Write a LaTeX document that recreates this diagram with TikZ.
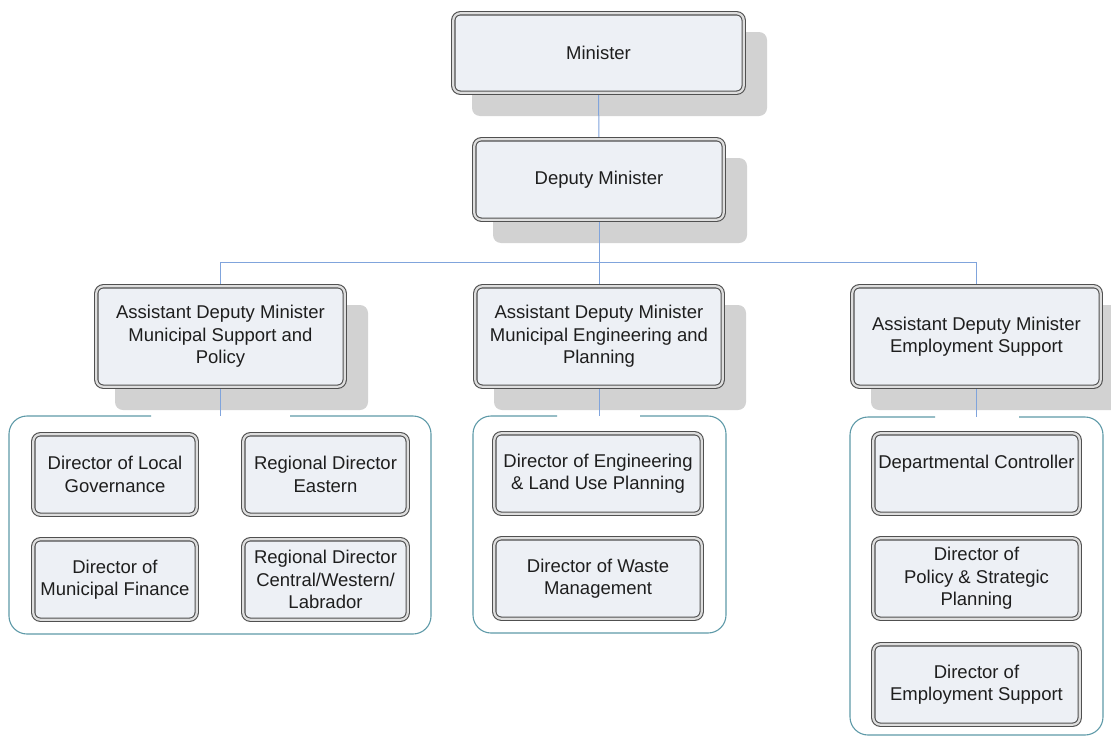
\documentclass[tikz,border=0pt]{standalone}
\usepackage{fontspec}
\setmainfont{Liberation Sans}
\usetikzlibrary{backgrounds}
\definecolor{boxfill}{RGB}{237,240,245}
\definecolor{boxline}{RGB}{80,80,80}
\definecolor{boxgap}{RGB}{222,222,222}
\definecolor{shadowc}{RGB}{210,210,210}
\definecolor{conn}{RGB}{128,164,220}
\definecolor{grpline}{RGB}{94,154,168}
\definecolor{txt}{RGB}{30,30,30}
\tikzset{
  obox/.style={draw=boxline, line width=1.1pt, double=boxgap, double distance=2.2pt,
    fill=boxfill, rounded corners=7pt, outer sep=0pt, inner sep=2pt, align=center,
    text=txt, font=\fontsize{18.5}{22.5}\selectfont},
  connector/.style={draw=conn, line width=1pt},
  grp/.style={draw=grpline, line width=1.1pt, rounded corners=18pt},
  shadowbox/.style={fill=shadowc, rounded corners=8pt}
}
\newcommand{\shadowof}[1]{\fill[shadowbox] ([shift={(18.7pt,-18.7pt)}]#1.north west) rectangle ([shift={(23.3pt,-23.3pt)}]#1.south east);}
\begin{document}
\begin{tikzpicture}[x=1pt,y=-1pt]
\useasboundingbox (0,0) rectangle (1111,736);
% top
\node[obox, minimum width=290.4pt, minimum height=79.4pt] (min) at (598.5,53) {Minister};
\node[obox, minimum width=249.4pt, minimum height=80.4pt] (dep) at (599,179.5) {Deputy Minister};
% assistant deputy ministers
\node[obox, minimum width=248.4pt, minimum height=100.4pt] (adm1) at (220.5,336.5) {Assistant Deputy Minister\\Municipal Support and\\Policy};
\node[obox, minimum width=247.4pt, minimum height=100.4pt] (adm2) at (599,336.5) {Assistant Deputy Minister\\Municipal Engineering and\\Planning};
\node[obox, minimum width=248.4pt, minimum height=100.4pt] (adm3) at (976.5,336.5) {Assistant Deputy Minister\\Employment Support};
% group 1
\node[obox, minimum width=163.4pt, minimum height=80.4pt] (dlg) at (115,474.5) {Director of Local\\Governance};
\node[obox, minimum width=164.4pt, minimum height=80.4pt] (rde) at (325.5,474.5) {Regional Director\\Eastern};
\node[obox, minimum width=163.4pt, minimum height=80.4pt] (dmf) at (115,579.5) {Director of\\Municipal Finance};
\node[obox, minimum width=164.4pt, minimum height=80.4pt] (rdc) at (325.5,579.5) {Regional Director\\Central/Western/\\Labrador};
% group 2
\node[obox, minimum width=207.4pt, minimum height=80.4pt] (delup) at (598,473.5) {Director of Engineering\\\& Land Use Planning};
\node[obox, minimum width=207.4pt, minimum height=80.4pt] (dwm) at (598,578.5) {Director of Waste\\Management};
% group 3
\node[obox, minimum width=206.4pt, minimum height=80.4pt] (dc) at (976.5,473.5) {Departmental Controller\\\mbox{}};
\node[obox, minimum width=206.4pt, minimum height=80.4pt] (dpsp) at (976.5,578.5) {Director of\\Policy \& Strategic\\Planning};
\node[obox, minimum width=206.4pt, minimum height=80.4pt] (des) at (976.5,684.5) {Director of\\Employment Support};
% group frames
\draw[grp] (151,416) -- (9,416) -- (9,634) -- (431,634) -- (431,416) -- (290,416);
\draw[grp] (557,416) -- (473,416) -- (473,633) -- (726,633) -- (726,416) -- (640,416);
\draw[grp] (935,417) -- (850,417) -- (850,735) -- (1103,735) -- (1103,417) -- (1019,417);
\coordinate (bus) at (599,262);
\coordinate (g1top) at (220.5,416);
\coordinate (g2top) at (599,416);
\coordinate (g3top) at (976.5,417);
\begin{scope}[on background layer]
  \fill[white] (0,0) rectangle (1111,736);
  \shadowof{min}
  \shadowof{dep}
  \shadowof{adm1}
  \shadowof{adm2}
  \shadowof{adm3}
  \draw[connector] (min.south) -- (dep.north);
  \draw[connector] (dep.south) -- (bus);
  \draw[connector] (bus) -| (adm1.north);
  \draw[connector] (bus) -- (adm2.north);
  \draw[connector] (bus) -| (adm3.north);
  \draw[connector] (adm1.south) -- (g1top);
  \draw[connector] (adm2.south) -- (g2top);
  \draw[connector] (adm3.south) -- (g3top);
\end{scope}
\end{tikzpicture}
\end{document}
